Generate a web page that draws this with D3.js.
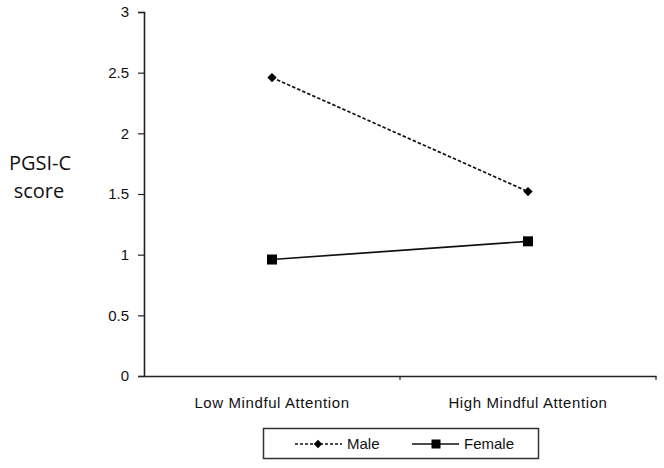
<!DOCTYPE html>
<html>
<head>
<meta charset="utf-8">
<script src="https://cdn.jsdelivr.net/npm/d3@7"></script>
<style>
  body { margin: 0; background: #fff; }
  svg { display: block; }
</style>
</head>
<body>
<svg id="chart" width="664" height="468"></svg>
<script>
// data
const categories = ["Low Mindful Attention", "High Mindful Attention"];
const maleValues = [2.46, 1.52];
const femaleValues = [0.96, 1.11];
const yTicks = [0, 0.5, 1, 1.5, 2, 2.5, 3];
const seriesNames = ["Male", "Female"];

const width = 664;
const height = 468;
const plotLeft = 144, plotRight = 656, plotTop = 12, plotBottom = 376;
const font = "Liberation Sans, Arial, sans-serif";

const svg = d3.select("#chart");

const xScale = d3.scaleBand()
  .domain(categories)
  .range([plotLeft, plotRight]);

const yScale = d3.scaleLinear()
  .domain([0, 3])
  .range([plotBottom, plotTop]);

// y axis
const yAxis = d3.axisLeft(yScale)
  .tickValues(yTicks)
  .tickFormat(d3.format("~g"))
  .tickSize(6)
  .tickPadding(9);

const gy = svg.append("g")
  .attr("transform", `translate(${plotLeft}, 0)`)
  .call(yAxis);
gy.select(".domain").attr("stroke", "#222").attr("stroke-width", 1.6);
gy.selectAll(".tick line").attr("stroke", "#222").attr("stroke-width", 1.2);
gy.selectAll("text")
  .style("font-family", font)
  .style("font-size", "15px")
  .attr("fill", "#111");

// x axis: ticks at category boundaries
const xAxis = d3.axisBottom(xScale)
  .tickSize(0)
  .tickPadding(21);

const gx = svg.append("g")
  .attr("transform", `translate(0, ${plotBottom})`)
  .call(xAxis);
gx.select(".domain").attr("stroke", "#222").attr("stroke-width", 1.6);
gx.selectAll("text")
  .style("font-family", font)
  .style("font-size", "15px")
  .style("letter-spacing", "0.6px")
  .attr("fill", "#111");

const boundaries = categories.slice(1).map(c => xScale(c)).concat([xScale(categories[categories.length - 1]) + xScale.bandwidth()]);
gx.selectAll(".bound")
  .data(boundaries)
  .enter()
  .append("line")
  .attr("x1", d => d).attr("x2", d => d)
  .attr("y1", 0).attr("y2", 4)
  .attr("stroke", "#222")
  .attr("stroke-width", 1.2);

// y title
const yTitle = svg.append("text")
  .attr("text-anchor", "middle")
  .style("font-family", "Open Sans, sans-serif")
  .style("font-size", "20px")
  .attr("fill", "#111");
yTitle.append("tspan").attr("x", 40).attr("y", 170).text("PGSI-C");
yTitle.append("tspan").attr("x", 39).attr("y", 198).text("score");

const cx = c => xScale(c) + xScale.bandwidth() / 2;

const line = d3.line()
  .x((d, i) => cx(categories[i]))
  .y(d => yScale(d));

// male series (dashed, diamonds)
svg.append("path")
  .datum(maleValues)
  .attr("d", line)
  .attr("fill", "none")
  .attr("stroke", "#111")
  .attr("stroke-width", 1.7)
  .attr("stroke-dasharray", "3.5,2");

svg.selectAll(".male")
  .data(maleValues)
  .enter()
  .append("path")
  .attr("class", "male")
  .attr("transform", (d, i) => `translate(${cx(categories[i])}, ${yScale(d)})`)
  .attr("d", d3.symbol(d3.symbolDiamond2, 55))
  .attr("fill", "#000");

// female series (solid, squares)
svg.append("path")
  .datum(femaleValues)
  .attr("d", line)
  .attr("fill", "none")
  .attr("stroke", "#111")
  .attr("stroke-width", 1.7);

svg.selectAll(".female")
  .data(femaleValues)
  .enter()
  .append("rect")
  .attr("class", "female")
  .attr("x", (d, i) => cx(categories[i]) - 5)
  .attr("y", d => yScale(d) - 5)
  .attr("width", 10)
  .attr("height", 10)
  .attr("fill", "#000");

// legend
const legend = svg.append("g");
legend.append("rect")
  .attr("x", 263.5).attr("y", 428.5)
  .attr("width", 275).attr("height", 30)
  .attr("fill", "#fff")
  .attr("stroke", "#333")
  .attr("stroke-width", 1.5);

const legendItems = [
  { name: seriesNames[0], x: 295, dash: "3,2", shape: "diamond" },
  { name: seriesNames[1], x: 412, dash: null, shape: "square" }
];

legendItems.forEach(it => {
  const g = legend.append("g").attr("transform", `translate(${it.x}, 444)`);
  g.append("line")
    .attr("x1", 0).attr("x2", 47)
    .attr("stroke", "#111")
    .attr("stroke-width", 1.5)
    .attr("stroke-dasharray", it.dash);
  if (it.shape === "diamond") {
    g.append("path")
      .attr("transform", "translate(23, 0)")
      .attr("d", d3.symbol(d3.symbolDiamond2, 45))
      .attr("fill", "#000");
  } else {
    g.append("rect")
      .attr("x", 19.5).attr("y", -4.5)
      .attr("width", 9).attr("height", 9)
      .attr("fill", "#000");
  }
  g.append("text")
    .attr("x", 52)
    .attr("dy", "0.35em")
    .style("font-family", font)
    .style("font-size", "15px")
    .attr("fill", "#111")
    .text(it.name);
});
</script>
</body>
</html>
